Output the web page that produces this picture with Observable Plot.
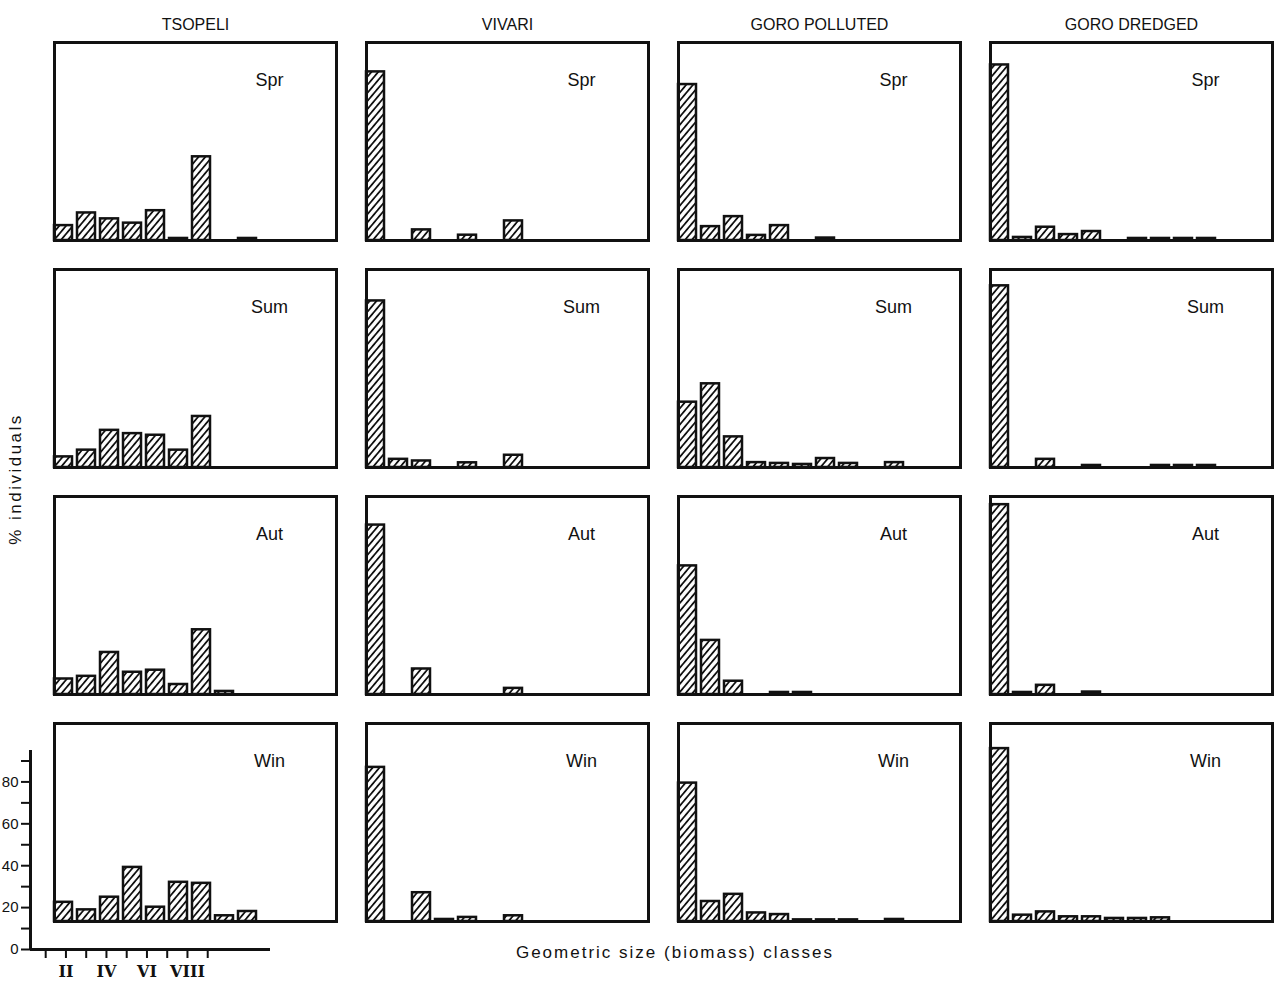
<!DOCTYPE html>
<html><head><meta charset="utf-8">
<script src="https://cdn.jsdelivr.net/npm/d3@7"></script>
<script src="https://cdn.jsdelivr.net/npm/@observablehq/plot@0.6"></script>
<style>
body{margin:0;background:#fff;}
#wrap{position:relative;width:1276px;height:987px;overflow:hidden;font-family:"Liberation Sans",Arial,sans-serif;background:#fff;}
#main{position:absolute;left:0;top:0;}
#scale{position:absolute;left:-30px;top:740px;z-index:2;}
.lbl{position:absolute;color:#111;font-size:17px;white-space:nowrap;}
</style></head><body>
<div id="wrap"><div id="main"></div><div id="scale"></div>
<div class="lbl" style="left:675px;top:953px;transform:translate(-50%,-50%);letter-spacing:2px;">Geometric size (biomass) classes</div>
<div class="lbl" style="left:16px;top:479px;transform:translate(-50%,-50%) rotate(-90deg);letter-spacing:2.5px;">% individuals</div>
</div>
<script>
const sites = ["TSOPELI", "VIVARI", "GORO POLLUTED", "GORO DREDGED"];
const seasons = ["Spr", "Sum", "Aut", "Win"];
const classes = ["I","II","III","IV","V","VI","VII","VIII","IX","X","XI","XII"];

// % individuals per size class (I, II, III, ...), one row per season (Spr, Sum, Aut, Win)
const tsopeliPct = [
  [7.3, 13.5, 10.6, 8.5, 14.6, 1.0, 41.0, 0, 1.0],
  [5.2, 8.5, 18.2, 16.6, 15.8, 8.5, 25.0],
  [7.6, 8.9, 20.6, 10.9, 11.9, 4.9, 31.7, 1.5],
  [9.4, 5.7, 11.9, 26.5, 7.0, 19.2, 18.7, 2.8, 4.9]
];
const vivariPct = [
  [82.6, 0, 5.2, 0, 2.6, 0, 9.6],
  [81.6, 4.0, 3.2, 0, 2.3, 0, 6.0],
  [83.0, 0, 12.5, 0, 0, 0, 3.0],
  [75.5, 0, 14.1, 1.0, 2.0, 0, 2.8]
];
const goroPollutedPct = [
  [76.4, 6.8, 11.7, 2.5, 7.3, 0, 1.2],
  [32.0, 41.0, 15.0, 2.4, 2.0, 1.5, 4.4, 2.0, 0, 2.4],
  [63.0, 26.5, 6.5, 0, 1.0, 1.0],
  [67.8, 9.8, 13.3, 4.2, 3.4, 0.8, 0.8, 0.8, 0, 1.0]
];
const goroDredgedPct = [
  [86.0, 1.5, 6.5, 2.9, 4.4, 0, 1.0, 1.0, 1.0, 1.0],
  [89.0, 0, 4.0, 0, 1.0, 0, 0, 1.0, 1.0, 1.0],
  [93.0, 1.0, 4.5, 0, 1.2],
  [84.7, 3.1, 4.7, 2.3, 2.3, 1.5, 1.5, 1.8]
];

// scale bar (bottom-left key)
const scaleTicks = [0, 10, 20, 30, 40, 50, 60, 70, 80, 90];
const scaleClassTicks = [1, 2, 3, 4, 5, 6, 7, 8, 9];

const sitePct = [tsopeliPct, vivariPct, goroPollutedPct, goroDredgedPct];
const rows = [];
sites.forEach((site, i) => sitePct[i].forEach((vals, j) => vals.forEach((v, k) => {
  if (v > 0) rows.push({site, season: seasons[j], cls: classes[k], value: v});
})));
const labelRows = [];
sites.forEach(site => seasons.forEach(season => labelRows.push({site, season})));

const main = Plot.plot({
  width: 1276, height: 930,
  marginTop: 42, marginBottom: 9, marginLeft: 53, marginRight: 2,
  style: {fontFamily: "Liberation Sans, Arial, sans-serif", fontSize: "16px", color: "#111", background: "white"},
  fx: {domain: sites, paddingInner: 0.095, paddingOuter: 0},
  fy: {domain: seasons, paddingInner: 0.128, paddingOuter: 0, axis: null},
  x: {type: "band", domain: classes, paddingInner: 0.2, paddingOuter: 0, align: 0, axis: null},
  y: {domain: [0, 97], axis: null},
  marks: [
    Plot.axisFx({anchor: "top", label: null, tickSize: 0, tickPadding: 13, fontSize: 16}),
    Plot.barY(rows, {fx: "site", fy: "season", x: "cls", y: "value", fill: "url(#hatch)", stroke: "#111", strokeWidth: 2.5}),
    Plot.frame({stroke: "#111", strokeWidth: 3}),
    Plot.text(labelRows, {fx: "site", fy: "season", text: "season", frameAnchor: "top-right", dx: -67, dy: 31, textAnchor: "middle", fontSize: 18})
  ]
});
d3.select(main).insert("defs", ":first-child").html(
  `<pattern id="hatch" patternUnits="userSpaceOnUse" width="5.2" height="5.2" patternTransform="rotate(40)">
     <rect width="5.2" height="5.2" fill="white"/>
     <line x1="2.6" y1="0" x2="2.6" y2="5.2" stroke="#111" stroke-width="1.8"/>
   </pattern>`);
document.getElementById("main").appendChild(main);

const scale = Plot.plot({
  width: 310, height: 247,
  marginTop: 10, marginBottom: 38, marginLeft: 60, marginRight: 10,
  style: {background: "transparent", fontFamily: "Liberation Sans, Arial, sans-serif", fontSize: "15px", color: "#111", overflow: "visible"},
  x: {domain: [0.25, 12.1]},
  y: {domain: [0, 95]},
  marks: [
    Plot.axisY({ticks: scaleTicks, tickFormat: d => d % 20 === 0 ? d : "", tickSize: 9, tickPadding: 3, strokeWidth: 2, label: null, fontSize: 15}),
    Plot.axisX({ticks: scaleClassTicks, tickFormat: d => d % 2 === 0 ? classes[d - 1] : "", tickSize: 9, tickPadding: 7, strokeWidth: 2, label: null, fontFamily: "DejaVu Serif", fontWeight: "bold", fontSize: 16}),
    Plot.ruleY([0], {stroke: "#111", strokeWidth: 3}),
    Plot.ruleX([0.25], {stroke: "#111", strokeWidth: 3})
  ]
});
document.getElementById("scale").appendChild(scale);
</script>
</body></html>
